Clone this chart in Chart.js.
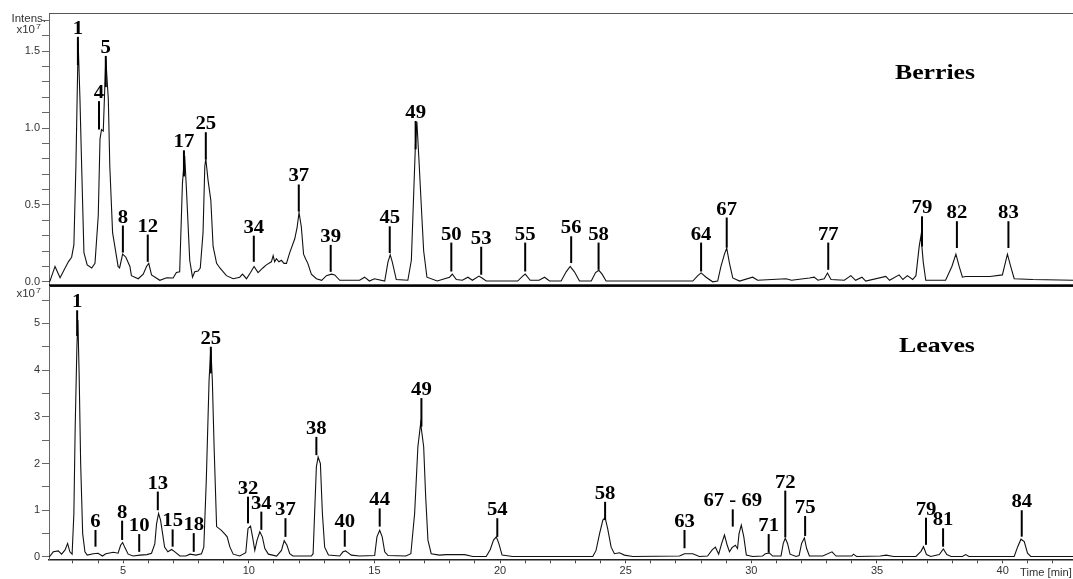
<!DOCTYPE html>
<html>
<head>
<meta charset="utf-8">
<script src="https://cdn.jsdelivr.net/npm/chart.js@4.4.1/dist/chart.umd.min.js"></script>
<style>
  html, body { margin: 0; padding: 0; background: #fff; }
  #wrap { position: relative; width: 1073px; height: 579px; overflow: hidden; background: #fff; }
  canvas { position: absolute; left: 0; }
  #top { top: 0; }
  #bottom { top: 286px; }
</style>
</head>
<body>
<div id="wrap">
  <canvas id="top" width="1073" height="288"></canvas>
  <canvas id="bottom" width="1073" height="293"></canvas>
</div>
<script>
// ---------- Shared x axis (retention time, min) ----------
const timeMin = 2.05;
const timeMax = 42.8;
const xTickValues = [3,4,5,6,7,8,9,10,11,12,13,14,15,16,17,18,19,20,21,22,23,24,25,26,27,28,29,30,31,32,33,34,35,36,37,38,39,40,41,42];
const xLabelValues = [5,10,15,20,25,30,35,40];

// ---------- Berries chromatogram (Intens. x10^7) ----------
const berriesTime = [2.06,2.09,2.29,2.49,2.82,2.95,3.04,3.12,3.21,3.28,3.35,3.44,3.57,3.75,3.88,4.01,4.08,4.14,4.21,4.31,4.41,4.47,4.58,4.67,4.80,4.86,4.98,5.11,5.27,5.33,5.60,5.80,5.93,6.02,6.13,6.46,6.73,6.99,7.12,7.25,7.36,7.45,7.52,7.65,7.76,7.85,7.98,8.07,8.18,8.25,8.29,8.38,8.49,8.58,8.72,8.85,9.11,9.38,9.64,9.75,9.91,10.07,10.21,10.37,10.56,10.70,10.90,10.97,11.03,11.10,11.20,11.30,11.40,11.50,11.63,11.83,11.92,12.00,12.09,12.18,12.26,12.35,12.49,12.69,12.90,13.09,13.29,13.42,13.62,14.41,14.61,14.80,15.00,15.41,15.54,15.63,15.71,15.87,16.33,16.47,16.56,16.64,16.69,16.77,16.87,16.96,17.09,17.50,17.99,18.10,18.26,18.50,18.72,18.90,19.16,19.28,19.45,20.70,20.90,21.00,21.20,21.55,21.77,21.97,22.43,22.63,22.79,22.96,23.16,23.63,23.80,23.93,24.06,24.22,27.67,27.87,28.00,28.20,28.46,28.66,28.79,28.93,29.02,29.13,29.26,29.53,30.05,30.25,31.38,31.60,32.31,32.50,32.65,32.90,33.03,33.17,33.70,33.96,34.15,34.40,34.55,35.35,35.50,35.88,36.03,36.21,36.42,36.55,36.68,36.75,36.84,36.94,37.73,37.98,38.14,38.27,38.40,38.53,39.50,39.99,40.19,40.32,40.46,41.20,42.80];
const berriesIntensity = [0.0,0.005,0.10,0.026,0.13,0.16,0.24,0.75,1.56,1.20,0.75,0.19,0.11,0.09,0.12,0.43,0.93,0.99,0.98,1.45,1.19,0.75,0.32,0.23,0.10,0.09,0.18,0.16,0.10,0.04,0.02,0.05,0.10,0.12,0.045,0.01,0.026,0.025,0.06,0.065,0.64,0.82,0.60,0.14,0.03,0.065,0.07,0.09,0.32,0.75,0.80,0.66,0.53,0.23,0.12,0.09,0.04,0.02,0.03,0.05,0.02,0.06,0.10,0.06,0.09,0.11,0.13,0.17,0.13,0.15,0.13,0.14,0.12,0.12,0.19,0.28,0.35,0.45,0.36,0.18,0.15,0.12,0.05,0.02,0.01,0.04,0.05,0.045,0.01,0.01,0.03,0.005,0.02,0.005,0.13,0.175,0.13,0.015,0.01,0.14,0.56,0.93,1.04,0.80,0.48,0.20,0.03,0.005,0.03,0.05,0.015,0.01,0.03,0.01,0.037,0.025,0.005,0.005,0.037,0.05,0.01,0.01,0.03,0.005,0.005,0.065,0.10,0.065,0.005,0.005,0.06,0.075,0.05,0.005,0.005,0.04,0.058,0.03,0.0,0.005,0.10,0.18,0.22,0.12,0.025,0.005,0.03,0.01,0.02,0.01,0.025,0.03,0.01,0.02,0.057,0.015,0.01,0.04,0.01,0.03,0.005,0.035,0.01,0.045,0.015,0.04,0.015,0.04,0.23,0.30,0.13,0.01,0.01,0.10,0.18,0.10,0.03,0.035,0.035,0.045,0.18,0.10,0.02,0.015,0.01];
const berriesYTicks = [0,0.1,0.2,0.3,0.4,0.5,0.6,0.7,0.8,0.9,1.0,1.1,1.2,1.3,1.4,1.5,1.6,1.7];
const berriesYLabels = [0,0.5,1.0,1.5];

const berriesPeakLabels  = ['1','4','5','8','12','17','25','34','37','39','45','49','50','53','55','56','58','64','67','77','79','82','83'];
const berriesPeakTimes   = [3.20,4.04,4.31,4.99,5.98,7.42,8.29,10.20,11.99,13.26,15.61,16.64,18.06,19.25,21.00,22.83,23.92,28.00,29.02,33.06,36.79,38.18,40.23];
const berriesPeakLineTop = [1.593,1.175,1.469,0.366,0.307,0.855,0.973,0.300,0.633,0.240,0.361,1.046,0.255,0.228,0.255,0.296,0.255,0.255,0.418,0.255,0.426,0.394,0.394];
const berriesPeakLineEnd = [1.41,0.99,1.266,0.19,0.13,0.685,0.796,0.13,0.457,0.065,0.187,0.862,0.067,0.046,0.067,0.122,0.078,0.067,0.222,0.078,0.23,0.22,0.22];

// ---------- Leaves chromatogram (x10^7) ----------
const leavesTime = [2.06,2.22,2.42,2.55,2.69,2.79,2.88,2.97,3.04,3.09,3.16,3.20,3.25,3.31,3.39,3.48,3.57,3.81,4.00,4.18,4.31,4.61,4.80,4.90,4.98,5.07,5.20,5.40,5.67,5.95,6.13,6.26,6.33,6.41,6.49,6.57,6.65,6.78,6.93,7.06,7.26,7.50,7.66,7.90,8.12,8.21,8.31,8.42,8.49,8.55,8.62,8.72,8.91,9.05,9.14,9.25,9.38,9.64,9.88,9.97,10.07,10.15,10.24,10.33,10.44,10.54,10.64,10.78,11.11,11.30,11.41,11.52,11.63,11.76,12.49,12.56,12.62,12.69,12.76,12.85,12.93,13.02,13.17,13.62,13.75,13.85,14.08,14.41,15.01,15.10,15.21,15.31,15.41,15.54,16.25,16.45,16.60,16.73,16.84,16.96,17.04,17.13,17.26,17.59,17.86,18.59,18.92,19.45,19.61,19.74,19.85,19.95,20.08,20.50,23.69,23.82,23.96,24.09,24.18,24.28,24.42,24.55,24.75,24.95,25.28,27.14,27.34,27.67,27.93,28.26,28.44,28.57,28.70,28.82,28.93,29.04,29.13,29.23,29.36,29.45,29.51,29.60,29.70,29.80,30.05,30.45,30.56,30.72,30.85,31.18,31.27,31.35,31.44,31.54,31.78,31.90,32.00,32.11,32.20,32.31,32.84,33.21,33.37,34.00,34.06,34.19,35.13,35.37,35.66,36.55,36.75,36.85,36.97,37.14,37.48,37.64,37.78,37.95,38.40,38.53,38.66,40.46,40.60,40.73,40.86,40.99,41.12,42.80];
const leavesIntensity = [0.0,0.11,0.13,0.06,0.15,0.29,0.11,0.06,0.93,2.72,4.50,5.07,3.90,2.00,0.50,0.11,0.04,0.07,0.08,0.02,0.07,0.10,0.08,0.25,0.31,0.20,0.06,0.02,0.04,0.05,0.08,0.28,0.71,0.93,0.79,0.50,0.21,0.11,0.16,0.11,0.02,0.02,0.06,0.04,0.07,0.21,1.65,3.78,4.46,3.78,2.36,0.65,0.57,0.49,0.43,0.21,0.06,0.02,0.09,0.61,0.66,0.43,0.14,0.36,0.54,0.43,0.18,0.06,0.02,0.14,0.35,0.25,0.07,0.02,0.02,0.07,0.93,1.93,2.14,2.00,0.93,0.21,0.04,0.02,0.11,0.13,0.04,0.02,0.03,0.43,0.57,0.43,0.11,0.03,0.02,0.07,0.93,2.36,2.86,2.36,1.29,0.36,0.07,0.04,0.05,0.05,0.01,0.01,0.16,0.36,0.43,0.29,0.04,0.01,0.01,0.14,0.50,0.79,0.84,0.61,0.21,0.07,0.09,0.04,0.01,0.02,0.07,0.07,0.01,0.02,0.15,0.21,0.06,0.29,0.47,0.25,0.11,0.20,0.25,0.18,0.50,0.68,0.43,0.04,0.01,0.02,0.07,0.085,0.02,0.02,0.29,0.40,0.29,0.06,0.01,0.03,0.29,0.41,0.18,0.02,0.02,0.11,0.02,0.02,0.06,0.01,0.02,0.04,0.01,0.01,0.12,0.22,0.05,0.01,0.05,0.17,0.05,0.01,0.01,0.05,0.01,0.01,0.22,0.38,0.33,0.08,0.01,0.01];
const leavesYTicks = [0,0.5,1,1.5,2,2.5,3,3.5,4,4.5,5,5.5];
const leavesYLabels = [0,1,2,3,4,5];

const leavesPeakLabels  = ['1','6','8','10','13','15','18','25','32','34','37','38','40','44','49','54','58','63','67 - 69','71','72','75','79','81','84'];
const leavesPeakTimes   = [3.17,3.90,4.96,5.64,6.38,6.97,7.81,8.49,9.97,10.50,11.46,12.69,13.82,15.21,16.87,19.89,24.18,27.34,29.26,30.69,31.35,32.14,36.95,37.63,40.76];
const leavesPeakLineTop = [5.28,0.578,0.777,0.49,1.40,0.59,0.51,4.50,1.29,0.97,0.83,2.57,0.578,1.04,3.40,0.83,1.18,0.578,1.02,0.49,1.42,0.877,0.84,0.614,1.00];
const leavesPeakLineEnd = [4.73,0.22,0.364,0.11,1.00,0.22,0.11,3.93,0.72,0.58,0.43,2.18,0.22,0.65,2.79,0.43,0.79,0.186,0.65,0.09,0.42,0.45,0.26,0.22,0.434];

// ---------- Helpers ----------
const toPoints = (xs, ys) => xs.map((t, i) => ({ x: t, y: ys[i] }));

function drawStretched(ctx, text, x, y, font, sx, align) {
  ctx.save();
  ctx.translate(x, y);
  ctx.scale(sx, 1);
  ctx.font = font;
  ctx.textAlign = align || 'center';
  ctx.textBaseline = 'alphabetic';
  ctx.fillText(text, 0, 0);
  ctx.restore();
}

const peakLabelPlugin = {
  id: 'peakLabels',
  afterDatasetsDraw(chart, args, opts) {
    const { ctx, scales } = chart;
    const xs = scales.x, ys = scales.y;
    ctx.save();
    ctx.fillStyle = '#000';
    ctx.strokeStyle = '#000';
    ctx.lineWidth = 2;
    opts.labels.forEach((lab, i) => {
      const px = xs.getPixelForValue(opts.times[i]);
      const pTop = ys.getPixelForValue(opts.tops[i]);
      const pEnd = ys.getPixelForValue(opts.ends[i]);
      ctx.beginPath();
      ctx.moveTo(px, pTop);
      ctx.lineTo(px, pEnd);
      ctx.stroke();
      drawStretched(ctx, lab, px, pTop - 3, 'bold 18.5px "Liberation Serif", "Times New Roman", serif', 1.12, 'center');
    });
    ctx.restore();
  }
};

const textPlugin = {
  id: 'panelText',
  afterDraw(chart, args, opts) {
    const { ctx, chartArea } = chart;
    ctx.save();
    ctx.fillStyle = '#000';
    drawStretched(ctx, opts.title, opts.titleX, opts.titleY, 'bold 22px "Liberation Serif", "Times New Roman", serif', 1.17, 'center');
    ctx.fillStyle = '#333';
    if (opts.intens) {
      drawStretched(ctx, 'Intens.', 46, 22, '10px "Liberation Sans", Arial, sans-serif', 1.15, 'right');
    }
    drawStretched(ctx, 'x10', 35, opts.expY, '10px "Liberation Sans", Arial, sans-serif', 1.15, 'right');
    drawStretched(ctx, '7', 36, opts.expY - 4, '8px "Liberation Sans", Arial, sans-serif', 1.1, 'left');
    if (opts.timeLabel) {
      drawStretched(ctx, 'Time [min]', 1020, opts.timeY, '10px "Liberation Sans", Arial, sans-serif', 1.12, 'left');
    }
    if (opts.frameTop) {
      ctx.strokeStyle = '#555';
      ctx.lineWidth = 1;
      ctx.beginPath();
      ctx.moveTo(chartArea.left, chartArea.top + 0.5);
      ctx.lineTo(chartArea.right, chartArea.top + 0.5);
      ctx.stroke();
    }
    if (opts.divider) {
      ctx.fillStyle = '#000';
      ctx.fillRect(chartArea.left, 284.3, chartArea.right - chartArea.left, 2.6);
    }
    ctx.restore();
  }
};

const tickFont = { family: '"Liberation Sans", Arial, sans-serif', size: 11 };

function yScale(min, max, tickVals, labelVals, fmt) {
  return {
    type: 'linear',
    min: min,
    max: max,
    afterBuildTicks: s => { s.ticks = tickVals.map(v => ({ value: v })); },
    afterFit: s => { s.width = 49; s.paddingTop = 0; s.paddingBottom = 0; },
    ticks: {
      autoSkip: false,
      padding: 2,
      color: '#333',
      font: tickFont,
      callback: v => labelVals.some(l => Math.abs(l - v) < 1e-6) ? fmt(v) : ''
    },
    grid: { drawOnChartArea: false, tickLength: 7, color: '#666', lineWidth: 1 },
    border: { color: '#666', width: 1 }
  };
}

// ---------- Top chart: Berries ----------
new Chart(document.getElementById('top'), {
  type: 'line',
  data: {
    datasets: [{
      data: toPoints(berriesTime, berriesIntensity),
      borderColor: '#111',
      borderWidth: 1.1,
      pointRadius: 0,
      tension: 0,
      fill: false
    }]
  },
  options: {
    responsive: false,
    animation: false,
    layout: { padding: { top: 13, right: 0, bottom: 2.5, left: 0 } },
    plugins: {
      legend: { display: false },
      tooltip: { enabled: false },
      peakLabels: { labels: berriesPeakLabels, times: berriesPeakTimes, tops: berriesPeakLineTop, ends: berriesPeakLineEnd },
      panelText: { title: 'Berries', titleX: 935, titleY: 79, intens: true, expY: 33, frameTop: true, divider: true }
    },
    scales: {
      x: { type: 'linear', min: timeMin, max: timeMax, display: false },
      y: yScale(-0.024, 1.748, berriesYTicks, berriesYLabels, v => v.toFixed(1))
    }
  },
  plugins: [peakLabelPlugin, textPlugin]
});

// ---------- Bottom chart: Leaves ----------
new Chart(document.getElementById('bottom'), {
  type: 'line',
  data: {
    datasets: [{
      data: toPoints(leavesTime, leavesIntensity),
      borderColor: '#111',
      borderWidth: 1.1,
      pointRadius: 0,
      tension: 0,
      fill: false
    }]
  },
  options: {
    responsive: false,
    animation: false,
    layout: { padding: { top: 0, right: 0, bottom: 0, left: 0 } },
    plugins: {
      legend: { display: false },
      tooltip: { enabled: false },
      peakLabels: { labels: leavesPeakLabels, times: leavesPeakTimes, tops: leavesPeakLineTop, ends: leavesPeakLineEnd },
      panelText: { title: 'Leaves', titleX: 937, titleY: 66, intens: false, expY: 11, timeLabel: true, timeY: 289.5 }
    },
    scales: {
      x: {
        type: 'linear',
        min: timeMin,
        max: timeMax,
        afterBuildTicks: s => { s.ticks = xTickValues.map(v => ({ value: v })); },
        afterFit: s => { s.height = 19.7; s.paddingLeft = 0; s.paddingRight = 0; },
        ticks: {
          autoSkip: false,
          maxRotation: 0,
          padding: 1,
          color: '#333',
          font: tickFont,
          callback: v => xLabelValues.includes(v) ? String(v) : ''
        },
        grid: { drawOnChartArea: false, tickLength: 4, color: '#444', lineWidth: 1 },
        border: { color: '#222', width: 1.5 }
      },
      y: yScale(-0.05, 5.80, leavesYTicks, leavesYLabels, v => String(v))
    }
  },
  plugins: [peakLabelPlugin, textPlugin]
});
</script>
</body>
</html>
